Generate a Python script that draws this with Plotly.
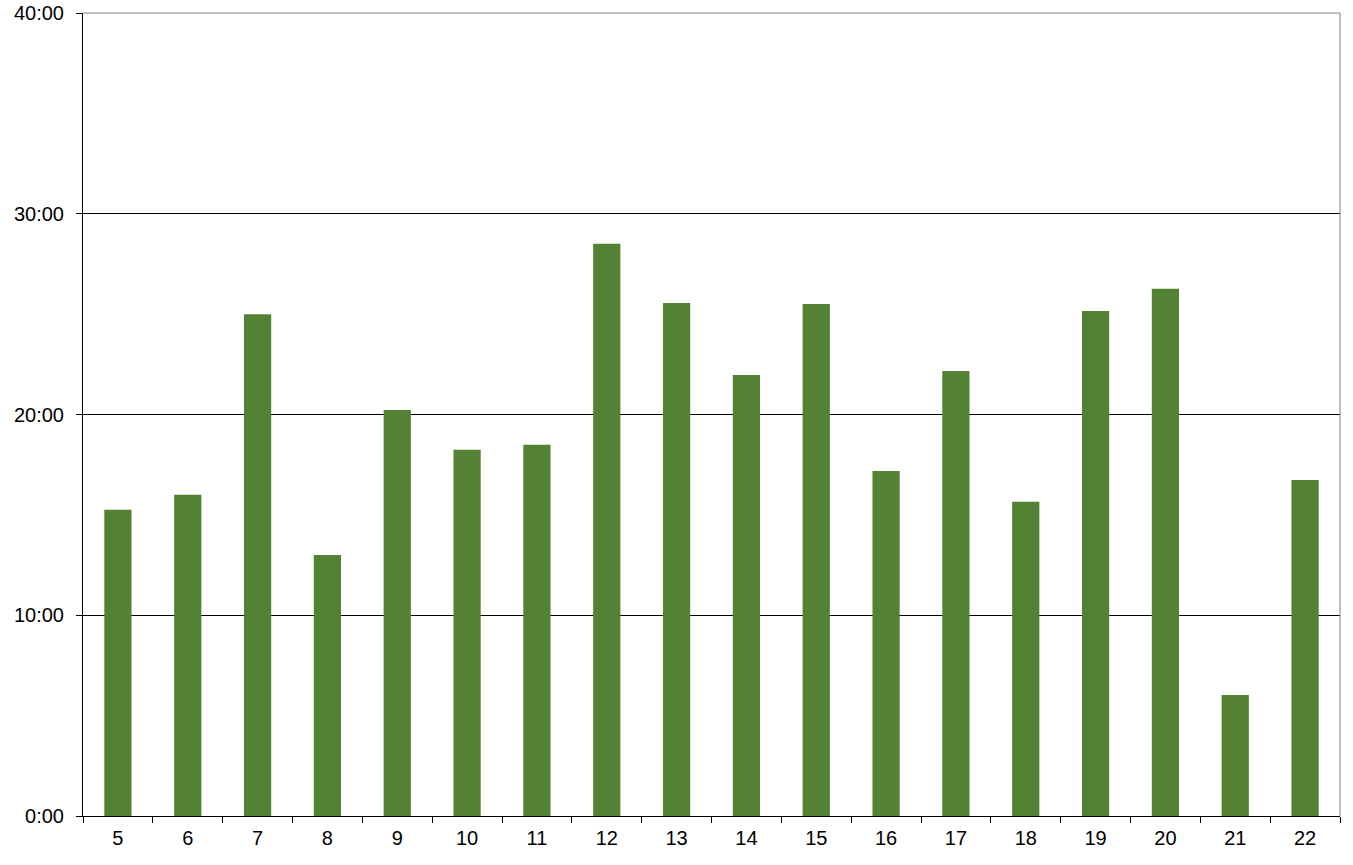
import plotly.graph_objects as go

categories = ["5", "6", "7", "8", "9", "10", "11", "12", "13", "14", "15", "16", "17", "18", "19", "20", "21", "22"]
minutes = [15.25, 16.0, 25.0, 13.0, 20.23, 18.24, 18.49, 28.5, 25.56, 21.97, 25.5, 17.19, 22.17, 15.65, 25.16, 26.26, 6.03, 16.74]
y_tickvals = [0, 10, 20, 30, 40]
y_ticktext = ["0:00", "10:00", "20:00", "30:00", "40:00"]

fig = go.Figure(go.Bar(x=categories, y=minutes, marker=dict(color="#548235", line=dict(width=0)), width=0.39))

font = dict(family="Arial", size=20, color="black")
fig.update_layout(
    width=1353, height=865,
    margin=dict(l=83, r=13, t=13, b=49, autoexpand=False),
    plot_bgcolor="white", paper_bgcolor="white",
    font=font, showlegend=False,
    bargap=0.61,
)
fig.update_xaxes(
    type="category", showline=True, linecolor="black", linewidth=1,
    ticks="outside", tickson="boundaries", ticklen=6, tickcolor="black",
    showgrid=False, tickfont=font, ticklabelstandoff=4, automargin=False,
)
fig.update_yaxes(
    range=[0, 40], tickvals=y_tickvals, ticktext=y_ticktext,
    showline=True, linecolor="black", linewidth=1,
    ticks="outside", ticklen=6, tickcolor="black",
    showgrid=True, gridcolor="black", gridwidth=1, zeroline=False,
    tickfont=font, ticklabelstandoff=8, automargin=False,
)
fig.add_shape(type="line", xref="paper", yref="paper", x0=0, x1=1, y0=1, y1=1, line=dict(color="#808080", width=1), layer="above")
fig.add_shape(type="line", xref="paper", yref="paper", x0=1, x1=1, y0=0, y1=1, line=dict(color="#808080", width=1), layer="above")

fig.write_html(
    "out.html",
    config={"displayModeBar": False},
    post_script="document.body.style.margin='0';document.body.style.padding='0';document.body.style.overflow='hidden';",
)
